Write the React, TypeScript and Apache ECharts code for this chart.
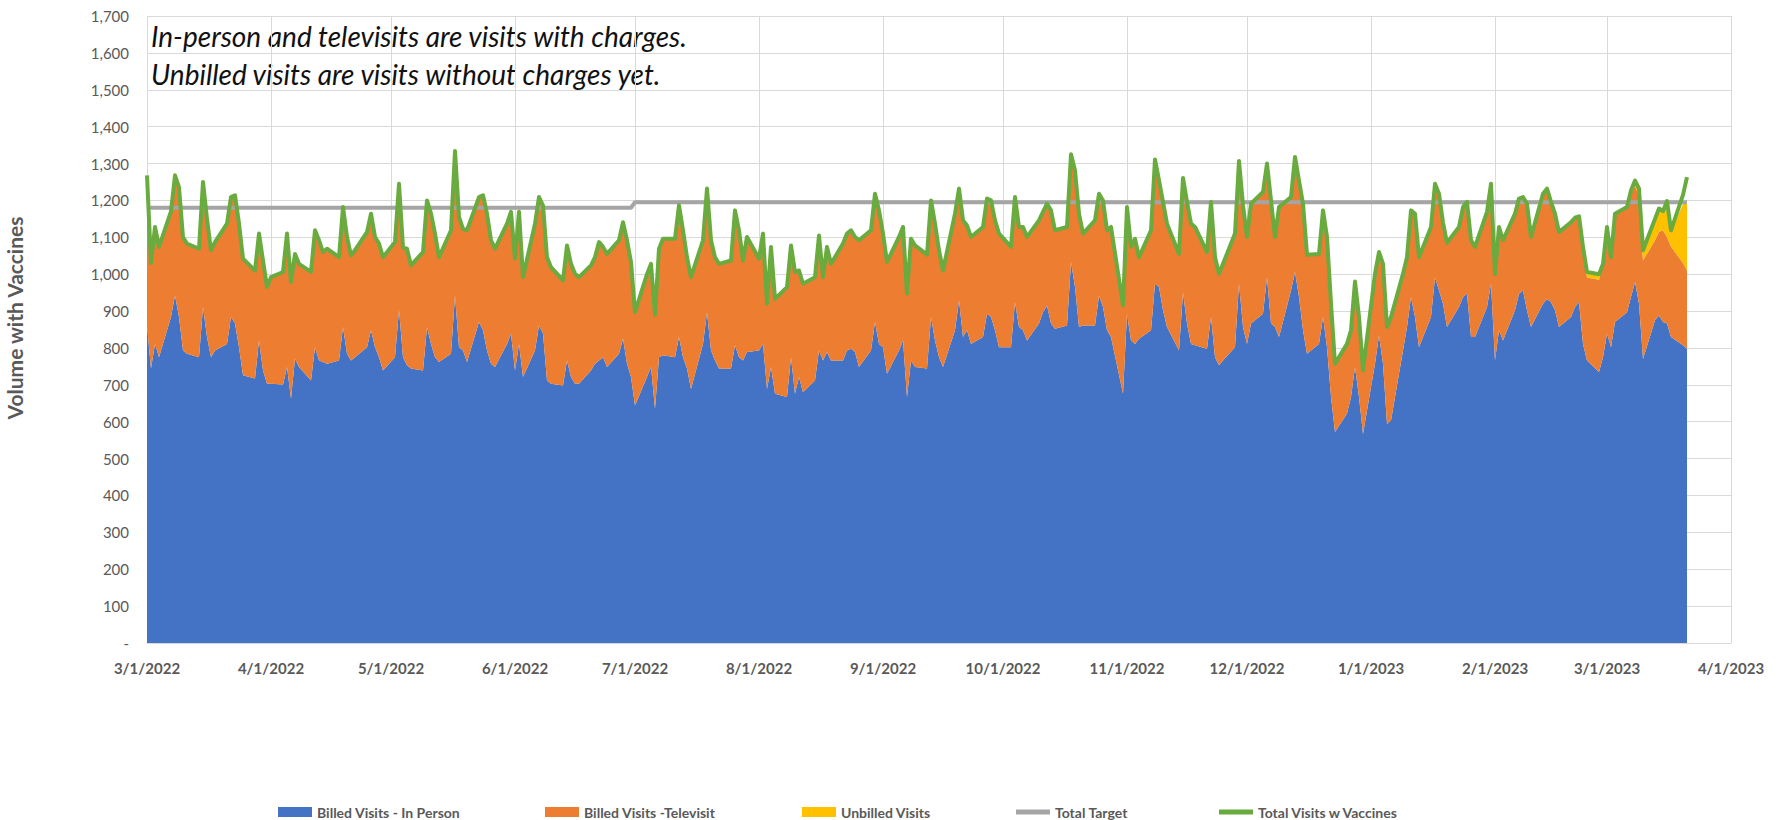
import React, { useEffect, useRef } from 'react';
import * as echarts from 'echarts';

// Values are per business day (Mon-Fri), starting Tue 3/1/2022; one row per week:
// [Tue, Wed, Thu, Fri, Mon]
const inPerson: number[] = [
  860, 744, 811, 775, 884,
  942, 884, 793, 784, 775,
  911, 830, 775, 793, 811,
  884, 866, 802, 726, 717,
  820, 739, 703, 703, 701,
  748, 662, 771, 748, 712,
  802, 766, 762, 757, 766,
  857, 784, 766, 775, 802,
  848, 802, 775, 739, 775,
  904, 775, 753, 744, 739,
  857, 811, 775, 762, 784,
  942, 802, 793, 762, 870,
  848, 793, 757, 748, 811,
  839, 739, 811, 721, 793,
  861, 839, 712, 703, 698,
  766, 721, 703, 703, 739,
  757, 766, 775, 748, 784,
  825, 757, 721, 644, 721,
  748, 635, 775, 780, 775,
  830, 775, 744, 689, 811,
  897, 793, 766, 744, 744,
  807, 775, 766, 789, 793,
  811, 689, 748, 676, 667,
  775, 676, 721, 680, 712,
  793, 766, 789, 766, 766,
  793, 798, 789, 748, 793,
  870, 811, 802, 730, 793,
  820, 667, 766, 748, 744,
  884, 820, 775, 748, 848,
  929, 830, 848, 811, 830,
  893, 884, 848, 802, 802,
  924, 857, 848, 820, 866,
  897, 915, 866, 852, 861,
  1033, 965, 857, 861, 861,
  942, 911, 848, 830, 676,
  893, 820, 811, 825, 848,
  974, 965, 902, 857, 793,
  950, 866, 811, 807, 798,
  884, 775, 753, 766, 802,
  974, 857, 811, 866, 893,
  992, 866, 857, 830, 956,
  1006, 938, 848, 784, 811,
  884, 802, 667, 572, 622,
  667, 748, 667, 567, 757,
  834, 757, 594, 603, 793,
  857, 938, 884, 802, 884,
  992, 956, 920, 857, 911,
  938, 947, 830, 830, 911,
  974, 766, 848, 820, 902,
  947, 956, 902, 857, 920,
  933, 924, 902, 857, 884,
  911, 924, 811, 766, 735,
  775, 839, 802, 870, 897,
  938, 979, 920, 770, 875,
  888, 870, 866, 830, 807,
  798,
];

const televisit: number[] = [
  408, 286, 317, 299, 286,
  326, 352, 307, 299, 294,
  339, 320, 290, 294, 326,
  325, 348, 335, 316, 293,
  290, 298, 262, 289, 305,
  362, 317, 284, 280, 294,
  317, 326, 298, 312, 280,
  325, 317, 285, 290, 312,
  316, 299, 308, 307, 312,
  341, 297, 316, 280, 321,
  343, 353, 335, 284, 335,
  392, 353, 330, 357, 339,
  366, 371, 335, 321, 326,
  330, 303, 358, 271, 344,
  348, 347, 334, 316, 285,
  312, 307, 298, 289, 285,
  289, 321, 299, 307, 308,
  316, 335, 312, 253, 279,
  280, 255, 294, 316, 321,
  357, 344, 302, 303, 281,
  335, 299, 280, 284, 293,
  366, 344, 271, 312, 249,
  299, 231, 326, 257, 298,
  303, 330, 289, 294, 280,
  312, 226, 285, 262, 317,
  317, 321, 312, 344, 326,
  348, 362, 308, 303, 308,
  308, 280, 330, 330, 309,
  316, 317, 290, 262, 316,
  303, 316, 284, 290, 298,
  312, 316, 298, 308, 272,
  285, 271, 280, 281, 280,
  272, 276, 307, 267, 267,
  292, 316, 307, 249, 285,
  276, 289, 271, 298, 239,
  289, 254, 285, 221, 271,
  337, 289, 294, 280, 262,
  311, 330, 326, 321, 262,
  312, 271, 248, 262, 308,
  333, 330, 290, 325, 330,
  308, 334, 244, 352, 253,
  312, 316, 343, 269, 244,
  289, 299, 253, 185, 189,
  181, 232, 217, 172, 244,
  226, 271, 263, 281, 208,
  189, 235, 280, 244, 244,
  253, 262, 220, 228, 217,
  244, 249, 262, 244, 258,
  271, 234, 280, 272, 262,
  258, 253, 289, 244, 298,
  299, 272, 262, 257, 257,
  242, 233, 263, 225, 250,
  253, 289, 244, 294, 285,
  279, 260, 292, 267, 217,
  227, 249, 235, 245, 223,
  212,
];

const unbilled: number[] = [
  0, 0, 0, 0, 0,  0, 0, 0, 0, 0,  0, 0, 0, 0, 0,  0, 0, 0, 0, 0,  0, 0, 0, 0, 0,
  0, 0, 0, 0, 0,  0, 0, 0, 0, 0,  0, 0, 0, 0, 0,  0, 0, 0, 0, 0,  0, 0, 0, 0, 0,
  0, 0, 0, 0, 0,  0, 0, 0, 0, 0,  0, 0, 0, 0, 0,  0, 0, 0, 0, 0,  0, 0, 0, 0, 0,
  0, 0, 0, 0, 0,  0, 0, 0, 0, 0,  0, 0, 0, 0, 0,  0, 0, 0, 0, 0,  0, 0, 0, 0, 0,
  0, 0, 0, 0, 0,  0, 0, 0, 0, 0,  0, 0, 0, 0, 0,  0, 0, 0, 0, 0,  0, 0, 0, 0, 0,
  0, 0, 0, 0, 0,  0, 0, 0, 0, 0,  0, 0, 0, 0, 0,  0, 0, 0, 0, 0,  0, 0, 0, 0, 0,
  0, 0, 0, 0, 0,  0, 0, 0, 0, 0,  0, 0, 0, 0, 0,  0, 0, 0, 0, 0,  0, 0, 0, 0, 0,
  0, 0, 0, 0, 0,  0, 0, 0, 0, 0,  0, 0, 0, 0, 0,  0, 0, 0, 0, 0,  0, 0, 0, 0, 0,
  0, 0, 0, 0, 0,  0, 0, 0, 0, 0,  0, 0, 0, 0, 0,  0, 0, 0, 0, 0,  0, 0, 0, 0, 0,
  0, 0, 0, 0, 0,  0, 0, 0, 0, 0,  0, 0, 0, 0, 0,  0, 0, 0, 0, 0,  0, 0, 0, 0, 0,
  0, 0, 0, 0, 0,
  0, 0, 0, 15, 15,
  0, 0, 0, 0, 0,
  10, 15, 20, 25, 58,
  60, 50, 90, 40, 160,
  185,
];

const totalVisits: number[] = [
  1268, 1030, 1128, 1074, 1170,
  1268, 1236, 1100, 1083, 1069,
  1250, 1150, 1065, 1087, 1137,
  1209, 1214, 1137, 1042, 1010,
  1110, 1037, 965, 992, 1006,
  1110, 979, 1055, 1028, 1006,
  1119, 1092, 1060, 1069, 1046,
  1182, 1101, 1051, 1065, 1114,
  1164, 1101, 1083, 1046, 1087,
  1245, 1072, 1069, 1024, 1060,
  1200, 1164, 1110, 1046, 1119,
  1334, 1155, 1123, 1119, 1209,
  1214, 1164, 1092, 1069, 1137,
  1169, 1042, 1169, 992, 1137,
  1209, 1186, 1046, 1019, 983,
  1078, 1028, 1001, 992, 1024,
  1046, 1087, 1074, 1055, 1092,
  1141, 1092, 1033, 897, 1000,
  1028, 890, 1069, 1096, 1096,
  1187, 1119, 1046, 992, 1092,
  1232, 1092, 1046, 1028, 1037,
  1173, 1119, 1037, 1101, 1042,
  1110, 920, 1074, 933, 965,
  1078, 1006, 1010, 974, 992,
  1105, 992, 1074, 1028, 1083,
  1110, 1119, 1101, 1092, 1119,
  1218, 1173, 1110, 1033, 1101,
  1128, 947, 1096, 1078, 1053,
  1200, 1137, 1065, 1010, 1164,
  1232, 1146, 1132, 1101, 1128,
  1205, 1200, 1146, 1110, 1074,
  1209, 1128, 1128, 1101, 1146,
  1169, 1191, 1173, 1119, 1128,
  1325, 1281, 1164, 1110, 1146,
  1218, 1200, 1119, 1128, 915,
  1182, 1074, 1096, 1046, 1119,
  1311, 1254, 1196, 1137, 1055,
  1261, 1196, 1137, 1128, 1060,
  1196, 1046, 1001, 1028, 1110,
  1307, 1187, 1101, 1191, 1223,
  1300, 1200, 1101, 1182, 1209,
  1318, 1254, 1191, 1053, 1055,
  1173, 1101, 920, 757, 811,
  848, 980, 884, 739, 1001,
  1060, 1028, 857, 884, 1001,
  1046, 1173, 1164, 1046, 1128,
  1245, 1218, 1140, 1085, 1128,
  1182, 1196, 1092, 1074, 1169,
  1245, 1000, 1128, 1092, 1164,
  1205, 1209, 1191, 1101, 1218,
  1232, 1196, 1164, 1114, 1141,
  1153, 1157, 1074, 1006, 1000,
  1028, 1128, 1046, 1164, 1182,
  1227, 1254, 1232, 1065, 1150,
  1178, 1171, 1198, 1119, 1215,
  1263,
];

const targetPoints: [string, number][] = [
  ['3/1/2022', 1180],
  ['6/30/2022', 1180],
  ['7/1/2022', 1195],
  ['3/21/2023', 1195],
];

const seriesNames = [
  'Billed Visits - In Person',
  'Billed Visits -Televisit',
  'Unbilled Visits',
  'Total Target',
  'Total Visits w Vaccines',
];
const seriesColors = ['#4472C4', '#ED7D31', '#FFC000', '#A5A5A5', '#6AAB40'];
const legendLefts = [278, 545, 802, 1016, 1219];
const noteLines = [
  'In-person and televisits are visits with charges.',
  'Unbilled visits are visits without charges yet.',
];
const yAxisTitle = 'Volume with Vaccines';

const FONT = 'Lato, "Noto Sans", sans-serif';

function fmtDate(d: Date): string {
  return `${d.getUTCMonth() + 1}/${d.getUTCDate()}/${d.getUTCFullYear()}`;
}

// calendar days of the axis: 3/1/2022 .. 4/1/2023
function buildAxisDays(): string[] {
  const out: string[] = [];
  const end = Date.UTC(2023, 3, 1);
  for (let k = 0; ; k++) {
    const t = Date.UTC(2022, 2, 1 + k);
    if (t > end) break;
    out.push(fmtDate(new Date(t)));
  }
  return out;
}

// business days on which values were recorded
function buildWeekdays(n: number): string[] {
  const out: string[] = [];
  for (let k = 0; out.length < n; k++) {
    const d = new Date(Date.UTC(2022, 2, 1 + k));
    const wd = d.getUTCDay();
    if (wd !== 0 && wd !== 6) out.push(fmtDate(d));
  }
  return out;
}

export default function App() {
  const ref = useRef<HTMLDivElement>(null);

  useEffect(() => {
    if (!ref.current) return;
    const chart = echarts.init(ref.current, null, { renderer: 'svg' });
    const axisDays = buildAxisDays();
    const days = buildWeekdays(totalVisits.length);
    const pairs = (arr: number[]) => arr.map((v, i) => [days[i], v]);
    const isMonthStart = (_i: number, v: string) => String(v).split('/')[1] === '1';

    const areaSeries = (idx: number, arr: number[]) => ({
      name: seriesNames[idx],
      type: 'line',
      stack: 'visits',
      data: pairs(arr),
      symbol: 'none',
      showSymbol: false,
      lineStyle: { width: 0, color: seriesColors[idx] },
      itemStyle: { color: seriesColors[idx] },
      areaStyle: { color: seriesColors[idx], opacity: 1 },
      z: 2,
    });

    const legendBase = {
      top: 805,
      itemWidth: 34,
      itemHeight: 9,
      selectedMode: false,
      padding: 0,
      textStyle: { color: '#595959', fontSize: 14, fontWeight: 'bold', fontFamily: FONT },
    };

    const option: any = {
      animation: false,
      backgroundColor: '#ffffff',
      grid: { left: 147, right: 46, top: 16, bottom: 177, containLabel: false },
      xAxis: {
        type: 'category',
        data: axisDays,
        boundaryGap: false,
        axisLine: { show: true, lineStyle: { color: '#D9D9D9', width: 1 } },
        axisTick: { show: false },
        axisLabel: {
          interval: isMonthStart,
          color: '#595959',
          fontSize: 15,
          fontWeight: 'bold',
          fontFamily: FONT,
          margin: 17,
        },
        splitLine: { show: true, interval: isMonthStart, lineStyle: { color: '#D9D9D9', width: 1 } },
      },
      yAxis: {
        type: 'value',
        min: 0,
        max: 1700,
        interval: 100,
        axisLine: { show: false },
        axisTick: { show: false },
        axisLabel: {
          color: '#595959',
          fontSize: 15,
          fontFamily: FONT,
          margin: 18,
          formatter: (v: number) => (v === 0 ? '-' : v.toLocaleString('en-US')),
        },
        splitLine: { show: true, lineStyle: { color: '#D9D9D9', width: 1 } },
      },
      legend: seriesNames.map((name, i) => ({
        ...legendBase,
        left: legendLefts[i],
        itemHeight: i >= 3 ? 5 : 10,
        data: [{ name, icon: 'rect' }],
      })),
      graphic: [
        {
          type: 'text',
          x: 151,
          y: 36,
          style: {
            text: noteLines[0],
            font: `italic 28px ${FONT}`,
            fill: '#111111',
            verticalAlign: 'middle',
          },
        },
        {
          type: 'text',
          x: 151,
          y: 74,
          style: {
            text: noteLines[1],
            font: `italic 28px ${FONT}`,
            fill: '#111111',
            verticalAlign: 'middle',
          },
        },
        {
          type: 'text',
          x: 14,
          y: 318,
          rotation: Math.PI / 2,
          style: {
            text: yAxisTitle,
            font: `bold 21px ${FONT}`,
            fill: '#595959',
            align: 'center',
            verticalAlign: 'middle',
          },
        },
      ],
      series: [
        areaSeries(0, inPerson),
        areaSeries(1, televisit),
        areaSeries(2, unbilled),
        {
          name: seriesNames[3],
          type: 'line',
          data: targetPoints,
          symbol: 'none',
          showSymbol: false,
          lineStyle: { width: 4, color: seriesColors[3] },
          itemStyle: { color: seriesColors[3] },
          z: 3,
        },
        {
          name: seriesNames[4],
          type: 'line',
          data: pairs(totalVisits),
          symbol: 'none',
          showSymbol: false,
          lineStyle: { width: 4, color: seriesColors[4], join: 'round' },
          itemStyle: { color: seriesColors[4] },
          z: 4,
        },
      ],
    };

    chart.setOption(option);
    return () => chart.dispose();
  }, []);

  return (
    <div
      ref={ref}
      style={{ position: 'fixed', left: 0, top: 0, width: 1777, height: 820, background: '#fff' }}
    />
  );
}
